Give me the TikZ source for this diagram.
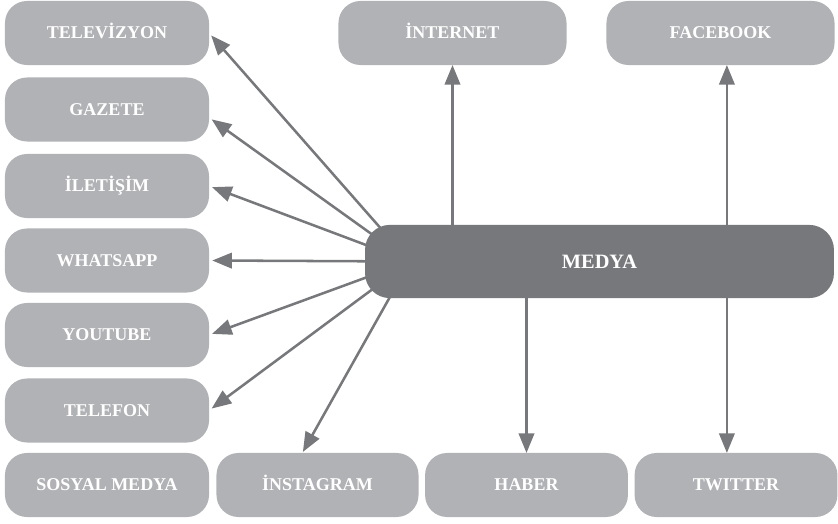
\documentclass[tikz,border=0pt]{standalone}
\usepackage{fontspec}
\setmainfont{Liberation Serif}
\usetikzlibrary{arrows.meta,backgrounds}
\definecolor{boxgray}{RGB}{177,178,181}
\definecolor{medyagray}{RGB}{119,120,123}

\begin{document}
\begin{tikzpicture}[x=0.025cm,y=-0.025cm,
        leaf/.style={fill=boxgray,rounded corners=0.55cm,minimum width=5.1cm,minimum height=1.6cm,
            inner sep=0pt,outer sep=0pt,text=white,text height=8.3pt,text depth=0pt,
            font=\fontsize{12.8}{14}\selectfont\bfseries},
        core/.style={fill=medyagray,rounded corners=0.62cm,minimum width=11.72cm,minimum height=1.83cm,
            inner sep=0pt,outer sep=0pt,text=white,text height=9.6pt,text depth=0pt,
            font=\fontsize{14.5}{16}\selectfont\bfseries},
        link/.style={draw=medyagray,line width=1.8pt,-{Triangle[length=14pt,width=11pt]}}]
            \useasboundingbox (0,0) rectangle (838,524);

            % left column
            \node[leaf] (televizyon) at (107,33) {TELEVİZYON};
            \node[leaf] (gazete) at (107,109.5) {GAZETE};
            \node[leaf] (iletisim) at (107,186) {İLETİŞİM};
            \node[leaf] (whatsapp) at (107,260.5) {WHATSAPP};
            \node[leaf] (youtube) at (107,335) {YOUTUBE};
            \node[leaf] (telefon) at (107,410.5) {TELEFON};
            \node[leaf] (sosyal) at (107,485) {SOSYAL MEDYA};

            % top row
            \node[leaf,minimum width=5.7cm] (internet) at (452.5,33) {İNTERNET};
            \node[leaf,minimum width=5.7cm] (facebook) at (720.5,33) {FACEBOOK};

            % bottom row
            \node[leaf,minimum width=5.05cm] (instagram) at (317.5,485) {İNSTAGRAM};
            \node[leaf,minimum width=5.07cm] (haber) at (526.5,485) {HABER};
            \node[leaf,minimum width=5.07cm] (twitter) at (736,485) {TWITTER};

            \node[core] (medya) at (599.5,261.5) {MEDYA};
            \coordinate (hub) at ([xshift=1.12cm]medya.west);
            \coordinate (fbfoot) at ([xshift=0.16cm]facebook.south);

            \begin{scope}[on background layer]
                \foreach \t in {televizyon,iletisim,whatsapp,youtube,telefon}{
                    \draw[link,shorten >=0.08cm] (hub)--(\t.east);
                }
                \draw[link,shorten >=0.08cm] (hub)--([yshift=-0.2cm]gazete.east);
                \draw[link,shorten >=0.03cm] (hub)--([xshift=-0.38cm]instagram.north);
            \end{scope}

            \draw[link] (medya.north -| internet.south)--(internet.south);
            \draw[link] (medya.north -| fbfoot)--(fbfoot);
            \draw[link] (medya.south -| haber.north)--(haber.north);
            \draw[link] (medya.south -| fbfoot)--(twitter.north -| fbfoot);
        \end{tikzpicture}
\end{document}
